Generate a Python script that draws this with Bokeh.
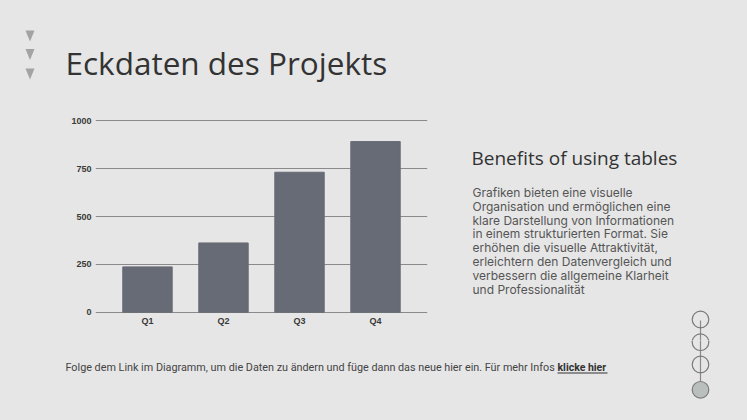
from bokeh.plotting import figure
from bokeh.layouts import column, row
from bokeh.models import FactorRange, Range1d, FixedTicker
from bokeh.core.properties import value
from bokeh.embed import file_html
from bokeh.resources import INLINE

# ---- data ----
quarters = ["Q1", "Q2", "Q3", "Q4"]
values = [237, 362, 731, 891]
y_ticks = [0, 250, 500, 750, 1000]

title_text = "Eckdaten des Projekts"
side_title = "Benefits of using tables"
side_lines = [
    "Grafiken bieten eine visuelle",
    "Organisation und ermöglichen eine",
    "klare Darstellung von Informationen",
    "in einem strukturierten Format. Sie",
    "erhöhen die visuelle Attraktivität,",
    "erleichtern den Datenvergleich und",
    "verbessern die allgemeine Klarheit",
    "und Professionalität",
]
footer_text = "Folge dem Link im Diagramm, um die Daten zu ändern und füge dann das neue hier ein. Für mehr Infos"
footer_link = "klicke hier"

BG = "#e6e6e6"
W, H = 747, 420
TOP_H, MID_H = 100, 240
BOT_H = H - TOP_H - MID_H
CHART_W = 450


def deco(w, h, x0, y0):
    f = figure(width=w, height=h, x_range=Range1d(x0, x0 + w), y_range=Range1d(y0 + h, y0),
               x_axis_type=None, y_axis_type=None, output_backend="svg", toolbar_location=None,
               min_border_left=0, min_border_right=0, min_border_top=0, min_border_bottom=0,
               frame_align=False)
    f.background_fill_color = BG
    f.border_fill_color = BG
    f.outline_line_color = None
    f.grid.visible = False
    return f


# ---- top: triangles + title ----
top = deco(W, TOP_H, 0, 0)
tri_cy = [35.5, 54, 73.5]
top.patches(xs=[[25, 34, 29.5] for _ in tri_cy],
            ys=[[c - 5.5, c - 5.5, c + 5.5] for c in tri_cy],
            fill_color="#a3a3a3", line_color=None)
top.text(x=[65], y=[62], text=[title_text], text_font=value("Open Sans"), text_font_size="31.5px",
         text_color="#333333", text_baseline="middle")

# ---- chart ----
chart = figure(width=CHART_W, height=MID_H,
               x_range=FactorRange(*quarters, range_padding=0.092),
               y_range=Range1d(-6.3, 1006.3),
               output_backend="svg", toolbar_location=None,
               min_border_left=95, min_border_right=CHART_W - 427,
               min_border_top=119 - TOP_H, min_border_bottom=TOP_H + MID_H - 313,
               frame_align=False)
chart.background_fill_color = BG
chart.border_fill_color = BG
chart.outline_line_color = None
chart.vbar(x=quarters, top=values, width=0.65, color="#676b75")
chart.xgrid.grid_line_color = None
chart.ygrid.grid_line_color = "#8a8a8a"
chart.ygrid.grid_line_width = 1
chart.yaxis.ticker = FixedTicker(ticks=y_ticks)
for ax in (chart.xaxis, chart.yaxis):
    ax.axis_line_color = None
    ax.major_tick_line_color = None
    ax.minor_tick_line_color = None
    ax.major_tick_out = 0
    ax.major_tick_in = 0
    ax.major_label_text_font = "Liberation Sans"
    ax.major_label_text_font_style = "bold"
    ax.major_label_text_font_size = "9px"
    ax.major_label_text_color = "#3a3a3a"
chart.yaxis.major_label_standoff = 4
chart.xaxis.major_label_standoff = 2

# ---- navigation circles (drawn in both side and bottom panels) ----
circ_y = [319, 341.7, 364, 389.3]
circ_fill = [None, None, None, "#b9bfbc"]


def nav(f):
    f.segment(x0=[700], y0=[320], x1=[700], y1=[388], line_color="#8a8a8a", line_width=1.2)
    f.scatter(x=[700] * 4, y=circ_y, size=16.6, marker="circle",
              fill_color=[c if c else BG for c in circ_fill],
              fill_alpha=[1 if c else 0 for c in circ_fill],
              line_color="#7a7a7a", line_width=1.2)


# ---- side text ----
side = deco(W - CHART_W, MID_H, CHART_W, TOP_H)
side.text(x=[471], y=[157.5], text=[side_title], text_font=value("Open Sans"), text_font_size="19px",
          text_color="#333333", text_baseline="middle")
side.text(x=[472] * len(side_lines), y=[191.7 + 13.9 * i for i in range(len(side_lines))],
          text=side_lines, text_font=value("Inter"), text_font_size="12px",
          text_color="#555555", text_baseline="middle")
nav(side)

# ---- bottom: footer ----
bottom = deco(W, BOT_H, 0, TOP_H + MID_H)
bottom.text(x=[65], y=[367], text=[footer_text], text_font=value("Roboto"), text_font_size="10.8px",
            text_color="#444444", text_baseline="middle")
bottom.text(x=[557], y=[367], text=[footer_link], text_font=value("Roboto"), text_font_size="10.5px",
            text_font_style="bold", text_color="#333333", text_baseline="middle")
bottom.segment(x0=[557], y0=[372.5], x1=[607], y1=[372.5], line_color="#333333", line_width=1)
nav(bottom)

mid = row(chart, side, styles={"background-color": BG})
layout = column(top, mid, bottom, styles={"background-color": BG})
open("out.html", "w").write(file_html(layout, INLINE))
